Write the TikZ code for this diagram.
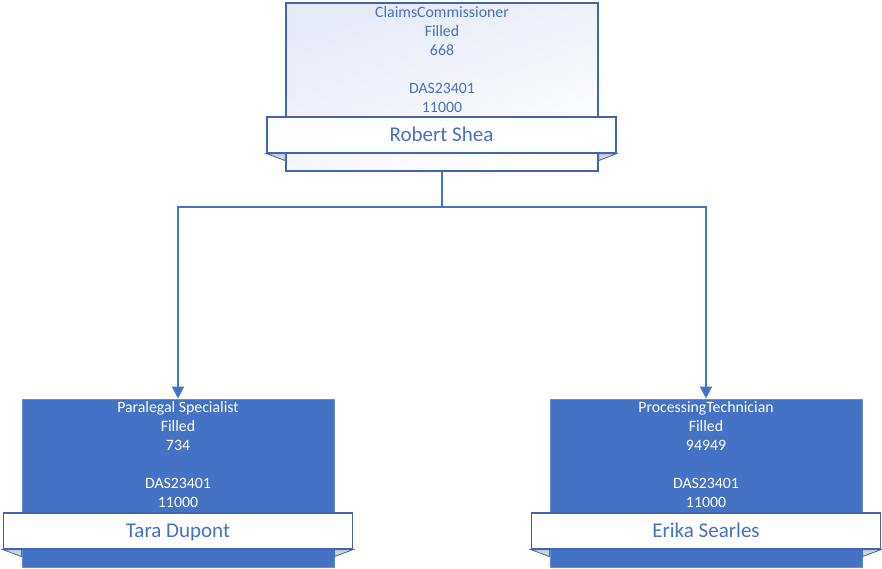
\documentclass[tikz,border=0pt]{standalone}
\usepackage{fontspec}
\setmainfont{Carlito}
\usetikzlibrary{arrows.meta,calc}
\definecolor{ob}{HTML}{4472C4}
\definecolor{obline}{HTML}{3F65B3}
\definecolor{toplight}{HTML}{E6EAF6}
\tikzset{
  topbox/.style={draw=obline, line width=1.5pt, minimum width=312pt, minimum height=168pt, inner sep=0pt,
     shading=axis, top color=toplight, bottom color=white, shading angle=20},
  childbox/.style={draw=ob!80!white, line width=1pt, fill=ob, minimum width=312pt, minimum height=168pt, inner sep=0pt},
  band/.style={draw=obline, line width=1.2pt, fill=white, minimum width=349pt, minimum height=36pt, inner sep=0pt,
     font=\fontsize{21pt}{24pt}\selectfont, text=ob, text height=15pt, text depth=2pt},
  infotext/.style={align=center, inner sep=0pt, font=\fontsize{15.8pt}{19pt}\selectfont},
  flap/.style={fill=gray!35, draw=obline, line width=0.8pt},
  conn/.style={draw=ob, line width=2pt, -{Triangle[width=12pt,length=12pt]}},
  plain/.style={draw=ob, line width=2pt}
}
\begin{document}
\begin{tikzpicture}[x=1pt,y=-1pt]
\useasboundingbox (0,0) rectangle (882,568);
% top
\node[topbox] (top) at (442,87) {};
\node[infotext, text=ob] (toptxt) at (442,59.5) {ClaimsCommissioner\\Filled\\668\\\mbox{}\\DAS23401\\11000};
\node[band] (topband) at (441.5,135) {Robert Shea};
\draw[flap] (topband.south west) -- (top.west |- topband.south) -- ($(top.west |- topband.south)+(0,7)$) -- cycle;
\draw[flap] (topband.south east) -- (top.east |- topband.south) -- ($(top.east |- topband.south)+(0,7)$) -- cycle;
% left child
\node[childbox] (c1) at (178,483) {};
\node[infotext, text=white] (c1txt) at (178,455) {Paralegal Specialist\\Filled\\734\\\mbox{}\\DAS23401\\11000};
\node[band] (c1band) at (178,531) {Tara Dupont};
\draw[flap] (c1band.south west) -- (c1.west |- c1band.south) -- ($(c1.west |- c1band.south)+(0,7)$) -- cycle;
\draw[flap] (c1band.south east) -- (c1.east |- c1band.south) -- ($(c1.east |- c1band.south)+(0,7)$) -- cycle;
% right child
\node[childbox] (c2) at (706,483) {};
\node[infotext, text=white] (c2txt) at (706,455) {ProcessingTechnician\\Filled\\94949\\\mbox{}\\DAS23401\\11000};
\node[band] (c2band) at (706,531) {Erika Searles};
\draw[flap] (c2band.south west) -- (c2.west |- c2band.south) -- ($(c2.west |- c2band.south)+(0,7)$) -- cycle;
\draw[flap] (c2band.south east) -- (c2.east |- c2band.south) -- ($(c2.east |- c2band.south)+(0,7)$) -- cycle;
% connectors
\coordinate (j) at (442,207);
\draw[plain] (top.south) -- (j);
\draw[conn] (j) -| (c1.north);
\draw[conn] (j) -| (c2.north);
\end{tikzpicture}
\end{document}
